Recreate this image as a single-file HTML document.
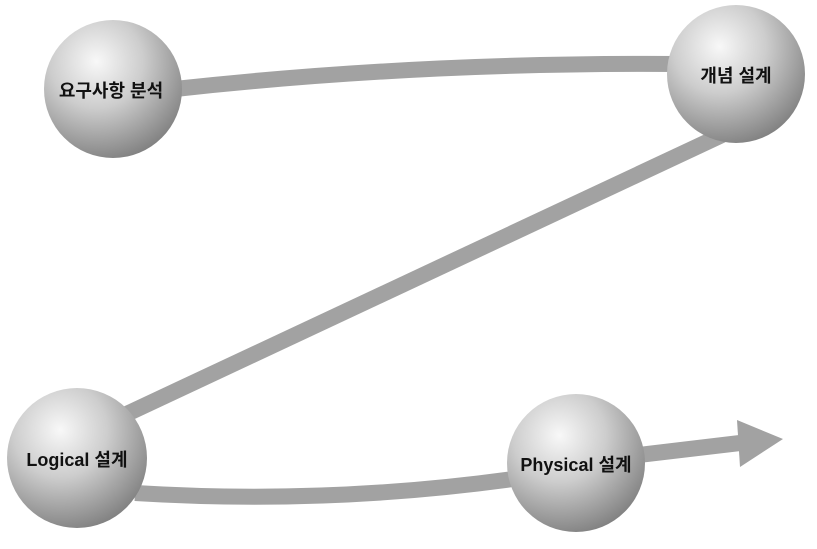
<!DOCTYPE html>
<html><head><meta charset="utf-8"><style>
html,body{margin:0;padding:0;background:#fff;}
svg text{font-family:"Liberation Sans","Noto Sans CJK KR","NanumGothic",sans-serif;font-weight:bold;fill:#111;}
</style></head><body>
<svg width="817" height="544" viewBox="0 0 817 544" xmlns="http://www.w3.org/2000/svg">
<defs>
<radialGradient id="g" cx="0.38" cy="0.3" r="0.75">
<stop offset="0" stop-color="#f8f8f8"/>
<stop offset="0.45" stop-color="#cdcdcd"/>
<stop offset="1" stop-color="#7e7e7e"/>
</radialGradient>
</defs>
<g fill="none" stroke="#a2a2a2" stroke-width="16">
<path d="M175 89 Q420 62 680 64"/>
<path d="M722 135 L118 418"/>
<path d="M135 493 Q330 505 520 478"/>
<path d="M630 456 L740 443"/>
</g>
<polygon points="737,420 783,439 740,467" fill="#a2a2a2"/>
<circle cx="113" cy="89" r="69" fill="url(#g)"/>
<circle cx="736" cy="74" r="69" fill="url(#g)"/>
<circle cx="77" cy="458" r="70" fill="url(#g)"/>
<circle cx="576" cy="463" r="69" fill="url(#g)"/>
<text x="111" y="97" font-size="18" text-anchor="middle">요구사항 분석</text>
<text x="736" y="82" font-size="18" text-anchor="middle">개념 설계</text>
<text x="77" y="466" font-size="18" text-anchor="middle">Logical 설계</text>
<text x="576" y="471" font-size="18" text-anchor="middle">Physical 설계</text>
</svg>
</body></html>
